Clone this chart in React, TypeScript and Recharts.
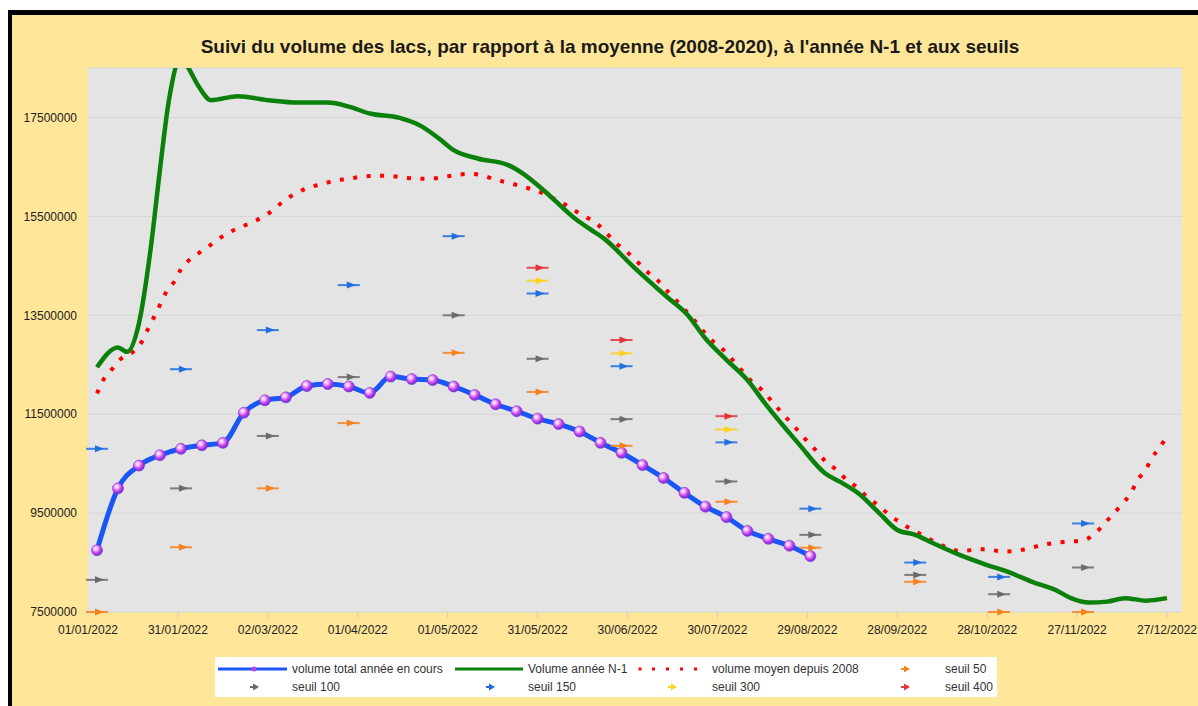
import React from 'react'
import { ComposedChart, Line, Scatter, XAxis, YAxis, CartesianGrid } from 'recharts'

// jours depuis le 01/01/2022
const totalDays = [3, 10, 17, 24, 31, 38, 45, 52, 59, 66, 73, 80, 87, 94, 101, 108, 115, 122, 129, 136, 143, 150, 157, 164, 171, 178, 185, 192, 199, 206, 213, 220, 227, 234, 241]
const totalValues = [8750000, 10000000, 10460000, 10670000, 10800000, 10870000, 10920000, 11530000, 11780000, 11840000, 12070000, 12110000, 12060000, 11930000, 12260000, 12210000, 12190000, 12060000, 11890000, 11700000, 11560000, 11410000, 11300000, 11150000, 10920000, 10720000, 10470000, 10210000, 9910000, 9630000, 9420000, 9140000, 8980000, 8840000, 8630000]

const n1Days = [3, 10, 13, 17, 21, 24, 27, 31, 33, 37, 41, 50, 60, 70, 80, 87, 94, 104, 111, 117, 122, 130, 140, 145, 152, 163, 167, 172, 182, 193, 200, 206, 213, 220, 226, 237, 246, 251, 257, 264, 270, 276, 282, 291, 300, 307, 315, 323, 328, 334, 340, 346, 353, 360]
const n1Values = [12450000, 12850000, 12760000, 13340000, 14890000, 16440000, 17850000, 18700000, 18550000, 18120000, 17850000, 17930000, 17850000, 17800000, 17800000, 17720000, 17580000, 17490000, 17330000, 17080000, 16840000, 16670000, 16540000, 16370000, 16030000, 15430000, 15260000, 15060000, 14480000, 13880000, 13510000, 13030000, 12600000, 12190000, 11710000, 10910000, 10300000, 10130000, 9900000, 9500000, 9160000, 9060000, 8890000, 8650000, 8450000, 8310000, 8110000, 7940000, 7780000, 7690000, 7710000, 7780000, 7730000, 7780000]

const avgDays = [3, 5, 8, 11, 15, 18, 20, 22, 24, 26, 29, 31, 34, 38, 42, 46, 50, 54, 58, 62, 65, 69, 73, 78, 82, 87, 91, 96, 100, 105, 110, 114, 119, 123, 128, 132, 136, 141, 145, 150, 154, 158, 162, 166, 170, 173, 176, 180, 183, 186, 190, 193, 196, 199, 202, 205, 208, 212, 215, 218, 221, 225, 228, 231, 234, 237, 240, 243, 246, 250, 253, 257, 260, 264, 267, 271, 275, 279, 283, 287, 291, 296, 300, 305, 309, 314, 318, 323, 327, 332, 336, 339, 342, 345, 348, 350, 353, 355, 358, 360]
const avgValues = [11920000, 12180000, 12410000, 12620000, 12760000, 12970000, 13220000, 13460000, 13710000, 13960000, 14200000, 14430000, 14630000, 14800000, 14970000, 15140000, 15260000, 15360000, 15480000, 15640000, 15800000, 15950000, 16070000, 16150000, 16220000, 16260000, 16300000, 16320000, 16320000, 16290000, 16260000, 16260000, 16300000, 16340000, 16360000, 16320000, 16240000, 16170000, 16100000, 16010000, 15900000, 15780000, 15630000, 15490000, 15340000, 15160000, 14970000, 14770000, 14600000, 14410000, 14210000, 14010000, 13820000, 13620000, 13420000, 13200000, 13000000, 12800000, 12600000, 12390000, 12190000, 11980000, 11770000, 11560000, 11360000, 11160000, 10950000, 10760000, 10550000, 10360000, 10180000, 10000000, 9820000, 9640000, 9480000, 9310000, 9160000, 9040000, 8900000, 8800000, 8730000, 8760000, 8770000, 8720000, 8730000, 8790000, 8850000, 8900000, 8920000, 8950000, 9090000, 9280000, 9480000, 9680000, 9910000, 10150000, 10390000, 10620000, 10860000, 11070000]

// seuils, relevés à peu près une fois par mois
const seuilDays = [3, 31, 60, 87, 122, 150, 178, 213, 241, 276, 304, 332]
const seuil50 = [7500000, 8810000, 10000000, 11320000, 12740000, 11950000, 10860000, 9730000, 8800000, 8110000, 7500000, 7500000]
const seuil100 = [8150000, 10000000, 11060000, 12250000, 13500000, 12620000, 11400000, 10140000, 9060000, 8250000, 7860000, 8400000]
const seuil150 = [10800000, 12410000, 13200000, 14110000, 15100000, 13940000, 12470000, 10930000, 9590000, 8500000, 8210000, 9290000]
const seuilHautDays = [150, 178, 213]
const seuil300 = [14200000, 12730000, 11190000]
const seuil400 = [14460000, 13000000, 11460000]

const xTicks = [0, 30, 60, 90, 120, 150, 180, 210, 240, 270, 300, 330, 360]
const yTicks = [7500000, 9500000, 11500000, 13500000, 15500000, 17500000]

const COLORS = {
  total: '#1a55f5',
  n1: '#0b800b',
  avg: '#ff0000',
  s50: '#f5821f',
  s100: '#6b6b6b',
  s150: '#1f6fe0',
  s300: '#ffd21f',
  s400: '#e3353b',
}

const toRows = (days: number[], values: number[]) => days.map((day, i) => ({ day, v: values[i] }))

const formatDate = (d: number) => {
  const dt = new Date(Date.UTC(2022, 0, 1 + d))
  const dd = String(dt.getUTCDate()).padStart(2, '0')
  const mm = String(dt.getUTCMonth() + 1).padStart(2, '0')
  return `${dd}/${mm}/${dt.getUTCFullYear()}`
}

const arrowShape = (color: string) => (props: any) => {
  const { cx, cy } = props
  if (cx == null || cy == null) return <g />
  return (
    <g>
      <line x1={cx - 11} x2={cx + 11} y1={cy} y2={cy} stroke={color} strokeWidth={2} opacity={0.85} />
      <polygon points={`${cx - 2},${cy - 3.5} ${cx + 7},${cy} ${cx - 2},${cy + 3.5}`} fill={color} />
    </g>
  )
}

const sphereDot = (props: any) => {
  const { cx, cy, index } = props
  if (cx == null || cy == null) return <g key={index} />
  return <circle key={index} cx={cx} cy={cy} r={5.5} fill="url(#sphere)" stroke="#7a2fd0" strokeWidth={0.6} />
}

const LegendArrow = ({ x, y, color }: { x: number; y: number; color: string }) => (
  <g>
    <line x1={x - 4} x2={x + 3} y1={y} y2={y} stroke={color} strokeWidth={2} />
    <polygon points={`${x - 1},${y - 3.5} ${x + 5},${y} ${x - 1},${y + 3.5}`} fill={color} />
  </g>
)

function ChartLegend() {
  const txt = { fontSize: 12, fill: '#333' }
  return (
    <svg width={782} height={40} style={{ position: 'absolute', left: 215, top: 657 }}>
      <rect x={0} y={0} width={782} height={40} fill="#ffffff" />
      {/* ligne 1 */}
      <line x1={3} x2={72} y1={12} y2={12} stroke={COLORS.total} strokeWidth={3} />
      <circle cx={39} cy={12} r={2.5} fill="#c040e0" />
      <text x={77} y={16} {...txt}>volume total année en cours</text>
      <line x1={240} x2={308} y1={12} y2={12} stroke={COLORS.n1} strokeWidth={3} />
      <text x={313} y={16} {...txt}>Volume année N-1</text>
      {[425, 438.5, 452.5, 466.5, 480.5].map((x) => (
        <rect key={x} x={x - 1.5} y={10.5} width={3} height={3} fill={COLORS.avg} />
      ))}
      <text x={497} y={16} {...txt}>volume moyen depuis 2008</text>
      <LegendArrow x={690} y={12} color={COLORS.s50} />
      <text x={730} y={16} {...txt}>seuil 50</text>
      {/* ligne 2 */}
      <LegendArrow x={39} y={30} color={COLORS.s100} />
      <text x={77} y={34} {...txt}>seuil 100</text>
      <LegendArrow x={275} y={30} color={COLORS.s150} />
      <text x={313} y={34} {...txt}>seuil 150</text>
      <LegendArrow x={457} y={30} color={COLORS.s300} />
      <text x={497} y={34} {...txt}>seuil 300</text>
      <LegendArrow x={690} y={30} color={COLORS.s400} />
      <text x={730} y={34} {...txt}>seuil 400</text>
    </svg>
  )
}

export default function App() {
  const totalData = toRows(totalDays, totalValues)
  const n1Data = toRows(n1Days, n1Values)
  const avgData = toRows(avgDays, avgValues)

  return (
    <div style={{ position: 'absolute', left: 0, top: 0, width: 1198, height: 706, overflow: 'hidden', background: '#fff', fontFamily: '"Liberation Sans", Arial, sans-serif' }}>
      {/* cadre jaune à bord noir */}
      <div style={{ position: 'absolute', left: 8, top: 10, width: 1300, height: 800, background: '#FFE699', borderTop: '5px solid #000', borderLeft: '4px solid #000' }} />
      <div style={{ position: 'absolute', left: 0, width: 1220, top: 36, textAlign: 'center', fontSize: 19, fontWeight: 'bold', color: '#1a1a1a' }}>
        Suivi du volume des lacs, par rapport à la moyenne (2008-2020), à l'année N-1 et aux seuils
      </div>
      <div style={{ position: 'absolute', left: 0, top: 0 }}>
        <ComposedChart width={1198} height={706} margin={{ top: 68, right: 16, bottom: 64, left: 0 }}>
          <defs>
            <radialGradient id="sphere" cx="38%" cy="35%" r="70%">
              <stop offset="0%" stopColor="#ffffff" />
              <stop offset="25%" stopColor="#f2b8ff" />
              <stop offset="60%" stopColor="#c63fe6" />
              <stop offset="100%" stopColor="#5b2fd6" />
            </radialGradient>
          </defs>
          <CartesianGrid vertical={false} fill="#E4E4E4" stroke="#d6d6d6" />
          <XAxis
            dataKey="day"
            type="number"
            domain={[0, 365]}
            ticks={xTicks}
            interval={0}
            tickFormatter={formatDate}
            axisLine={false}
            tickSize={6}
            tickMargin={7}
            tickLine={{ stroke: '#cfcfcf' }}
            tick={{ fontSize: 12, fill: '#222' }}
            height={30}
          />
          <YAxis
            type="number"
            domain={[7500000, 18500000]}
            ticks={yTicks}
            interval={0}
            width={88}
            axisLine={false}
            tickLine={false}
            tickSize={6}
            tickMargin={5}
            tick={{ fontSize: 12, fill: '#222' }}
          />
          <YAxis yAxisId="clip" hide type="number" domain={[7500000, 18500000]} allowDataOverflow />
          <Line data={avgData} dataKey="v" type="monotone" stroke={COLORS.avg} strokeWidth={4} strokeDasharray="4 9.5" dot={false} isAnimationActive={false} />
          <Line data={n1Data} dataKey="v" yAxisId="clip" type="monotone" stroke={COLORS.n1} strokeWidth={4.5} dot={false} isAnimationActive={false} />
          <Line data={totalData} dataKey="v" type="monotone" stroke={COLORS.total} strokeWidth={5} dot={sphereDot} isAnimationActive={false} />
          <Scatter data={toRows(seuilDays, seuil50)} dataKey="v" shape={arrowShape(COLORS.s50)} isAnimationActive={false} />
          <Scatter data={toRows(seuilDays, seuil100)} dataKey="v" shape={arrowShape(COLORS.s100)} isAnimationActive={false} />
          <Scatter data={toRows(seuilDays, seuil150)} dataKey="v" shape={arrowShape(COLORS.s150)} isAnimationActive={false} />
          <Scatter data={toRows(seuilHautDays, seuil300)} dataKey="v" shape={arrowShape(COLORS.s300)} isAnimationActive={false} />
          <Scatter data={toRows(seuilHautDays, seuil400)} dataKey="v" shape={arrowShape(COLORS.s400)} isAnimationActive={false} />
        </ComposedChart>
      </div>
      <ChartLegend />
    </div>
  )
}
